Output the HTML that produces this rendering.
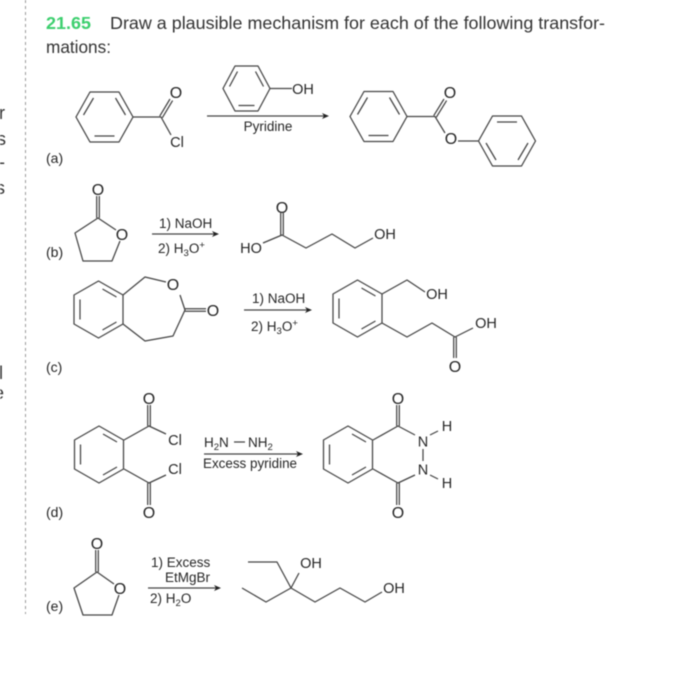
<!DOCTYPE html>
<html>
<head>
<meta charset="utf-8">
<style>
html,body{margin:0;padding:0;background:#fff;width:700px;height:696px;overflow:hidden}
svg{display:block;filter:blur(.4px)}
text{font-family:"Liberation Sans",sans-serif;fill:#262626}
.a{font-size:16px;text-anchor:middle}
.b{font-size:14.5px;text-anchor:middle}
.r{font-size:13.5px}
.l{font-size:14px}
.t{font-size:17.5px;fill:#333}
.x{font-size:18px;fill:#333}
.s{font-size:9.5px}
path,line,polyline{fill:none;stroke:#444;stroke-width:1.25;stroke-linejoin:round}
.ar{fill:#222;stroke:none}
</style>
</head>
<body>
<svg width="700" height="696" viewBox="0 0 700 696" xmlns="http://www.w3.org/2000/svg">
<rect width="700" height="696" fill="#fff"/>
<line x1="25.5" y1="0" x2="25.5" y2="614" style="stroke:#999;stroke-width:1;stroke-dasharray:3 3"/>

<text x="-1" y="119" class="x">r</text>
<text x="-3" y="145" class="x">s</text>
<text x="-1" y="168" class="x">-</text>
<text x="-4" y="194" class="x">s</text>
<text x="-1" y="379" class="x">l</text>
<text x="-6" y="399" class="x">e</text>

<text x="46" y="29" class="t" textLength="45" lengthAdjust="spacingAndGlyphs" style="fill:#3ccf6e;font-weight:bold">21.65</text>
<text x="110" y="29" class="t" textLength="495" lengthAdjust="spacingAndGlyphs">Draw a plausible mechanism for each of the following transfor-</text>
<text x="46" y="53" class="t" textLength="65" lengthAdjust="spacingAndGlyphs">mations:</text>

<!-- (a) -->
<text x="46" y="163" class="l">(a)</text>
<g transform="translate(104.5 117)"><path d="M-28.5 0L-14.5-25H14.5L28.5 0L14.5 25H-14.5Z"/><path d="M-21-2L-11-19M21-2L11-19M-10 19H10"/></g>
<path d="M133 117H161L171 135"/>
<path d="M159.7 116.2L170 99M162.3 117.8L172.6 100.6"/>
<text x="176" y="98" class="a">O</text>
<text x="177" y="147" class="b">Cl</text>
<g transform="translate(246.5 88.5)"><path d="M-23.5 0L-11.5-22.5H11.5L23.5 0L11.5 22.5H-11.5Z"/><path d="M-17-2L-9-17M17-2L9-17M-8 17H8"/></g>
<line x1="270" y1="88.5" x2="292" y2="88.5"/>
<text x="303" y="94" class="b">OH</text>
<line x1="207" y1="116" x2="325" y2="116"/>
<path class="ar" d="M329 116L322 113L324 116L322 119Z"/>
<text x="268" y="131" class="r" text-anchor="middle">Pyridine</text>
<g transform="translate(378.5 116.5)"><path d="M-28.5 0L-14.5-25H14.5L28.5 0L14.5 25H-14.5Z"/><path d="M-21-2L-11-19M21-2L11-19M-10 19H10"/></g>
<path d="M407 116.5H435L445 133"/>
<path d="M433.7 115.7L444 99M436.3 117.3L446.6 100.6"/>
<text x="450" y="98" class="a">O</text>
<text x="451" y="144" class="a">O</text>
<line x1="458" y1="141" x2="478" y2="141"/>
<g transform="translate(507 141)"><path d="M-28.5 0L-14.5-25H14.5L28.5 0L14.5 25H-14.5Z"/><path d="M-10-19H10M21 2L11 19M-21 2L-11 19"/></g>

<!-- (b) -->
<text x="46" y="257" class="l">(b)</text>
<path d="M116 230L98 218L75 233L83 261H112L120 241"/>
<path d="M96.7 218V196M99.3 218V196"/>
<text x="98" y="195" class="a">O</text>
<text x="122" y="240" class="a">O</text>
<line x1="152" y1="234" x2="215" y2="234"/>
<path class="ar" d="M219 234L212 231L214 234L212 237Z"/>
<text x="159" y="228" class="r">1) NaOH</text>
<text x="158" y="253" class="r">2) H<tspan class="s" dy="3">3</tspan><tspan dy="-3">O</tspan><tspan class="s" dy="-5">+</tspan></text>
<text x="251" y="253" class="b">HO</text>
<path d="M263 243L282 235L306 248L332 234L355 248L373 238"/>
<path d="M280.7 235V213M283.3 235V213"/>
<text x="282" y="213" class="a">O</text>
<text x="385" y="239" class="b">OH</text>

<!-- (c) -->
<text x="46" y="372" class="l">(c)</text>
<g transform="translate(98.5 309.5)"><path d="M-24.5-14.5L0-28.5L24.5-14.5V14.5L0 28.5L-24.5 14.5Z"/><path d="M-18.5-10V10M4-20.5L18-12.5M4 20.5L18 12.5"/></g>
<path d="M123 295L145 277L166 282M180 295L185 310L173 336L145 341L123 324"/>
<path d="M185 308.7H206M185 311.3H206"/>
<text x="173" y="290" class="a">O</text>
<text x="213" y="316" class="a">O</text>
<line x1="244" y1="310" x2="308" y2="310"/>
<path class="ar" d="M312 310L305 307L307 310L305 313Z"/>
<text x="252" y="303" class="r">1) NaOH</text>
<text x="251" y="331" class="r">2) H<tspan class="s" dy="3">3</tspan><tspan dy="-3">O</tspan><tspan class="s" dy="-5">+</tspan></text>
<g transform="translate(357.5 308.5)"><path d="M-24.5-14.5L0-28.5L24.5-14.5V14.5L0 28.5L-24.5 14.5Z"/><path d="M-18.5-10V10M4-20.5L18-12.5M4 20.5L18 12.5"/></g>
<path d="M382 294L407 280L425 292"/>
<path d="M382 323L407 337L432 323L455 337L473 328"/>
<path d="M453.7 337V358M456.3 337V358"/>
<text x="437" y="299" class="b">OH</text>
<text x="486" y="328" class="b">OH</text>
<text x="455" y="372" class="a">O</text>

<!-- (d) -->
<text x="46" y="517" class="l">(d)</text>
<g transform="translate(99 454.5)"><path d="M-24.5-14.5L0-28.5L24.5-14.5V14.5L0 28.5L-24.5 14.5Z"/><path d="M-18.5-10V10M4-20.5L18-12.5M4 20.5L18 12.5"/></g>
<path d="M124 440L149 426L166 434M124 469L149 483L166 475"/>
<path d="M147.7 426V405M150.3 426V405M147.7 483V505M150.3 483V505"/>
<text x="149" y="404" class="a">O</text>
<text x="149" y="518" class="a">O</text>
<text x="175" y="445" class="b">Cl</text>
<text x="175" y="474" class="b">Cl</text>
<line x1="204" y1="454" x2="299" y2="454"/>
<path class="ar" d="M303 454L296 451L298 454L296 457Z"/>
<text x="204" y="447" class="r">H<tspan class="s" dy="3">2</tspan><tspan dy="-3">N</tspan></text>
<line x1="234" y1="442" x2="245" y2="442"/>
<text x="248" y="447" class="r">NH<tspan class="s" dy="3">2</tspan></text>
<text x="203" y="468" class="r" textLength="94" lengthAdjust="spacingAndGlyphs">Excess pyridine</text>
<g transform="translate(348 454.5)"><path d="M-24.5-14.5L0-28.5L24.5-14.5V14.5L0 28.5L-24.5 14.5Z"/><path d="M-18.5-10V10M4-20.5L18-12.5M4 20.5L18 12.5"/></g>
<path d="M373 440L398 426L415 435M373 469L398 483L415 475"/>
<path d="M396.7 426V405M399.3 426V405M396.7 483V505M399.3 483V505"/>
<text x="398" y="404" class="a">O</text>
<text x="398" y="518" class="a">O</text>
<text x="423" y="446.5" class="b">N</text>
<text x="423" y="474.5" class="b">N</text>
<line x1="423" y1="449" x2="423" y2="461"/>
<line x1="430" y1="435" x2="438" y2="431"/>
<line x1="430" y1="475" x2="438" y2="479"/>
<text x="447" y="431" class="b">H</text>
<text x="447" y="488" class="b">H</text>

<!-- (e) -->
<text x="46" y="611" class="l">(e)</text>
<path d="M114 584L97 572L74 588L83 615H112L119 595"/>
<path d="M95.7 572V550M98.3 572V550"/>
<text x="97" y="549" class="a">O</text>
<text x="120" y="594" class="a">O</text>
<line x1="148" y1="588" x2="217" y2="588"/>
<path class="ar" d="M221 588L214 585L216 588L214 591Z"/>
<text x="151" y="567" class="r">1) Excess</text>
<text x="165" y="582" class="r">EtMgBr</text>
<text x="150" y="603" class="r">2) H<tspan class="s" dy="3">2</tspan><tspan dy="-3">O</tspan></text>
<path d="M248 562H277L291 588L299 573"/>
<path d="M242 588L266 602L291 588L315 602L340 588L365 602L382 592"/>
<text x="311" y="568" class="b">OH</text>
<text x="394" y="593" class="b">OH</text>
</svg>
</body>
</html>
